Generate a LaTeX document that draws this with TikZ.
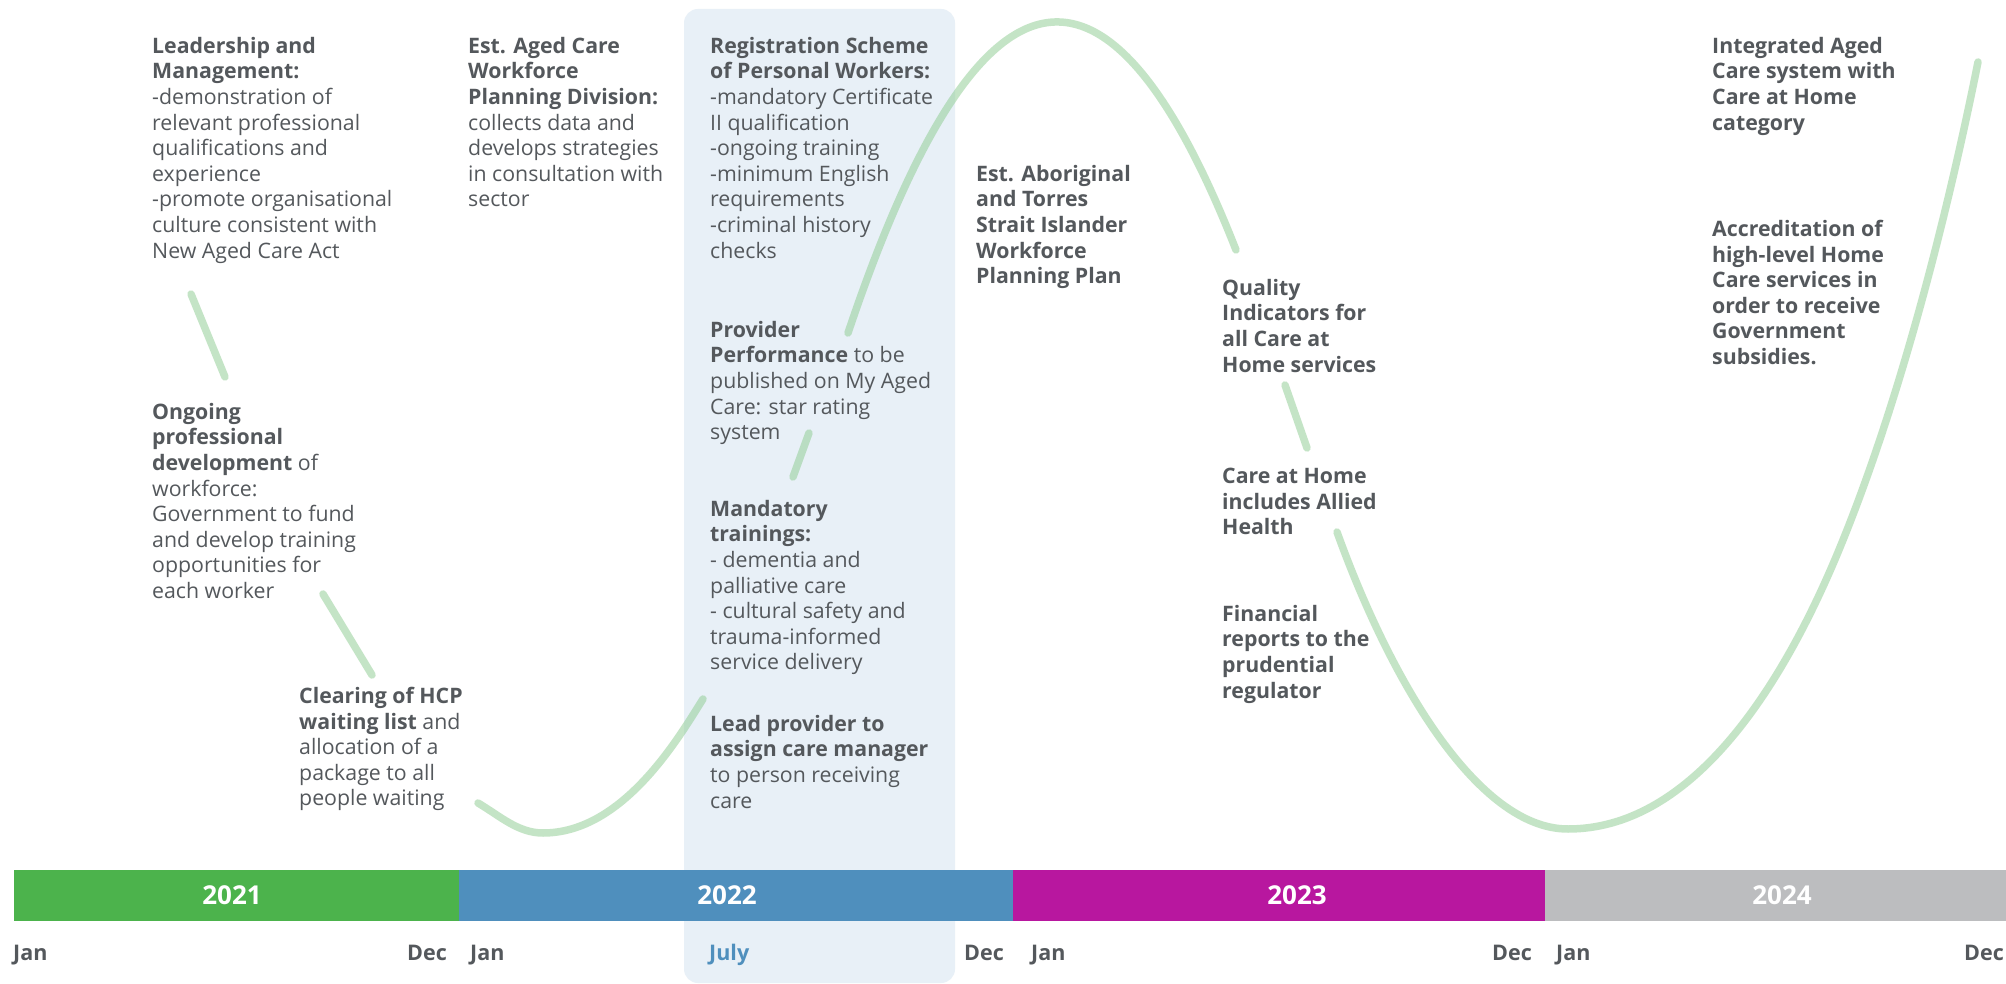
\documentclass[tikz,border=0pt]{standalone}
\usepackage{fontspec}
\setmainfont{Open Sans}
\definecolor{ink}{HTML}{54585C}
\definecolor{wave}{HTML}{8BCB8F}
\definecolor{panel}{HTML}{E8F0F7}
\definecolor{yrA}{HTML}{4CB34C}
\definecolor{yrB}{HTML}{4F8FBD}
\definecolor{yrC}{HTML}{B8179F}
\definecolor{yrD}{HTML}{BCBDBF}
\newcommand{\bodyfont}{\fontsize{21.3}{25.6}\selectfont}
\begin{document}
\begin{tikzpicture}[x=1pt,y=-1pt,
  txt/.style={anchor=north west, inner sep=0pt, align=left, text=ink, font=\bodyfont},
  btxt/.style={txt, font=\bodyfont\bfseries},
  wavepart/.style={draw=wave, draw opacity=0.5, line width=7.5pt, line cap=round},
  yearlbl/.style={text=white, inner sep=0pt, font=\fontsize{26}{30}\selectfont\bfseries},
  month/.style={anchor=base west, text=ink, inner sep=0pt,
                font=\fontsize{21.5}{24}\selectfont\bfseries}]

\useasboundingbox (0,0) rectangle (2006,984);
\fill[white] (0,0) rectangle (2006,984);

% highlighted middle of 2022
\fill[panel, rounded corners=14pt] (684,9) rectangle (955,983);

% the wave, visible between the text blocks
\coordinate (a1) at (191,294);  \coordinate (a2) at (225,377);
\coordinate (b1) at (323,594);  \coordinate (b2) at (372,675);
\coordinate (c1) at (478,803);  \coordinate (cm) at (543,833);  \coordinate (c2) at (703,699);
\coordinate (e1) at (793,477);  \coordinate (e2) at (809,433);
\coordinate (d1) at (848,333);  \coordinate (d2) at (1236,250);
\coordinate (f1) at (1285,385); \coordinate (f2) at (1307,448);
\coordinate (g1) at (1337,532); \coordinate (gm) at (1568,829);
\coordinate (gk) at (1836,557); \coordinate (g2) at (1978,62);
\draw[wavepart] (a1) -- (a2);
\draw[wavepart] (b1) -- (b2);
\draw[wavepart] (c1) .. controls (500,816) and (518,833) .. (cm)
                     .. controls (623,833) and (678.5,738) .. (c2);
\draw[wavepart] (e1) -- (e2);
\draw[wavepart] (d1) .. controls (977.3,-51.9) and (1106.7,-79.6) .. (d2);
\draw[wavepart] (f1) -- (f2);
\draw[wavepart] (g1) .. controls (1391,682) and (1478,829) .. (gm)
                     .. controls (1688,829) and (1777,697) .. (gk)
                     .. controls (1899,407) and (1948,212) .. (g2);

% text blocks
\node[txt] (lead) at (152,37) {\textbf{Leadership and}\\\textbf{Management:}\\-demonstration of\\relevant professional\\qualifications and\\experience\\-promote organisational\\culture consistent with\\New Aged Care Act};
\node[txt] (ongo) at (152,403) {\textbf{Ongoing}\\\textbf{professional}\\\textbf{development} of\\workforce:\\Government to fund\\and develop training\\opportunities for\\each worker};
\node[txt] (hcp) at (299,687) {\textbf{Clearing of HCP}\\\textbf{waiting list} and\\allocation of a\\package to all\\people waiting};
\node[txt] (wfpd) at (468,37) {\textbf{Est. Aged Care}\\\textbf{Workforce}\\\textbf{Planning Division:}\\collects data and\\develops strategies\\in consultation with\\sector};
\node[txt] (reg) at (710,37) {\textbf{Registration Scheme}\\\textbf{of Personal Workers:}\\-mandatory Certificate\\II qualification\\-ongoing training\\-minimum English\\requirements\\-criminal history\\checks};
\node[txt] (prov) at (710,321) {\textbf{Provider}\\\textbf{Performance} to be\\published on My Aged\\Care: star rating\\system};
\node[txt] (mand) at (710,500) {\textbf{Mandatory}\\\textbf{trainings:}\\- dementia and\\palliative care\\- cultural safety and\\trauma-informed\\service delivery};
\node[txt] (lprov) at (710,715) {\textbf{Lead provider to}\\\textbf{assign care manager}\\to person receiving\\care};
\node[btxt] (abor) at (976,165) {Est. Aboriginal\\and Torres\\Strait Islander\\Workforce\\Planning Plan};
\node[btxt] (qual) at (1222,279) {Quality\\Indicators for\\all Care at\\Home services};
\node[btxt] (cah) at (1222,468) {Care at Home\\includes Allied\\Health};
\node[btxt] (fin) at (1222,605) {Financial\\reports to the\\prudential\\regulator};
\node[btxt] (integ) at (1712,37) {Integrated Aged\\Care system with\\Care at Home\\category};
\node[btxt] (accr) at (1712,220) {Accreditation of\\high-level Home\\Care services in\\order to receive\\Government\\subsidies.};

% year bar
\fill[yrA] (14,870) rectangle (459,921);
\fill[yrB] (459,870) rectangle (1013,921);
\fill[yrC] (1013,870) rectangle (1545,921);
\fill[yrD] (1545,870) rectangle (2006,921);
\node[yearlbl] (y21) at (232,895) {2021};
\node[yearlbl] (y22) at (727,895) {2022};
\node[yearlbl] (y23) at (1297,895) {2023};
\node[yearlbl] (y24) at (1782,895) {2024};

% months
\node[month] (m1) at (13,960) {Jan};
\node[month] (m2) at (407,960) {Dec};
\node[month] (m3) at (470,960) {Jan};
\node[month, text=yrB] (m4) at (709,960) {July};
\node[month] (m5) at (964,960) {Dec};
\node[month] (m6) at (1031,960) {Jan};
\node[month] (m7) at (1492,960) {Dec};
\node[month] (m8) at (1556,960) {Jan};
\node[month] (m9) at (1964,960) {Dec};
\end{tikzpicture}
\end{document}
